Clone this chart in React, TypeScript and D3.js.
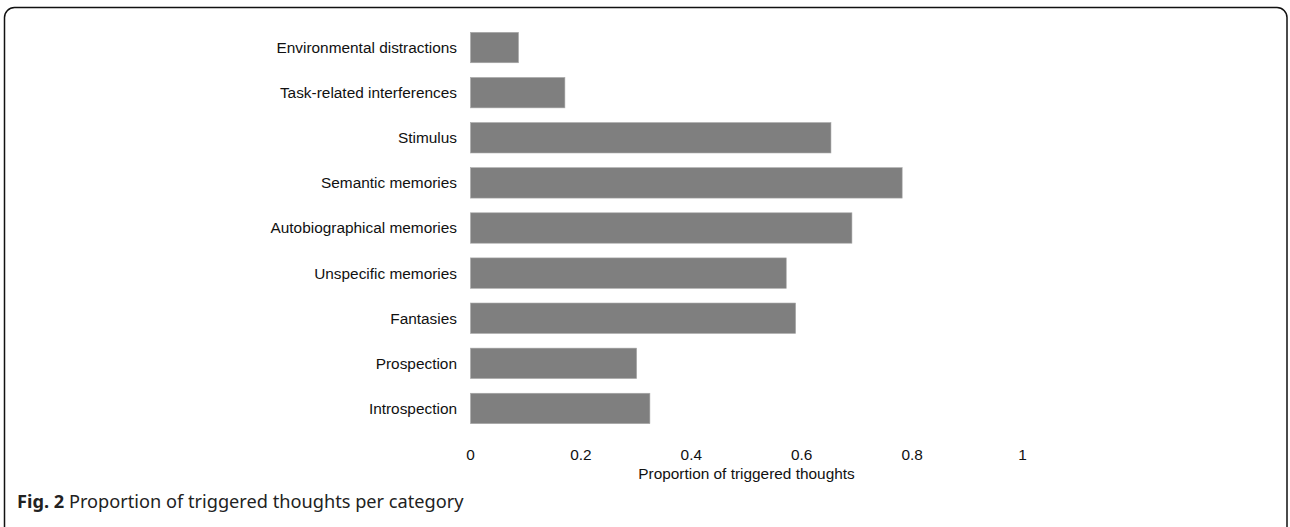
import React from "react";
import * as d3 from "d3";

const categories = [
  "Environmental distractions",
  "Task-related interferences",
  "Stimulus",
  "Semantic memories",
  "Autobiographical memories",
  "Unspecific memories",
  "Fantasies",
  "Prospection",
  "Introspection",
];
const proportions = [0.087, 0.171, 0.653, 0.782, 0.691, 0.572, 0.589, 0.301, 0.325];
const xTicks = [0, 0.2, 0.4, 0.6, 0.8, 1];
const xTickLabels = ["0", "0.2", "0.4", "0.6", "0.8", "1"];
const xTitle = "Proportion of triggered thoughts";
const captionBold = "Fig. 2";
const captionText = " Proportion of triggered thoughts per category";

const W = 1290;
const H = 527;

export default function App() {
  const x = d3.scaleLinear().domain([0, 1]).range([470.5, 1022.5]);
  const y = d3
    .scaleBand<string>()
    .domain(categories)
    .range([25, 431])
    .paddingInner(0.326)
    .paddingOuter(0.163);
  const font = "'Liberation Sans', Arial, sans-serif";
  const fs = 15.4;
  return (
    <svg
      width={W}
      height={H}
      style={{ position: "absolute", left: 0, top: 0, background: "#fff" }}
    >
      <rect x={4.5} y={7.5} width={1282.5} height={530} rx={10} ry={10} fill="#fff" stroke="#111" strokeWidth={1.5} />
      {categories.map((c, i) => (
        <g key={c}>
          <rect
            x={x(0)}
            y={y(c)}
            width={x(proportions[i]) - x(0)}
            height={y.bandwidth()}
            fill="#7f7f7f"
            stroke="#a8a8a8"
            strokeWidth={0.6}
          />
          <text
            x={457}
            y={(y(c) as number) + y.bandwidth() / 2}
            dy="0.35em"
            textAnchor="end"
            fontFamily={font}
            fontSize={fs}
            fill="#111"
          >
            {c}
          </text>
        </g>
      ))}
      {xTicks.map((t, i) => (
        <text
          key={t}
          x={x(t)}
          y={455}
          dy="0.35em"
          textAnchor="middle"
          fontFamily={font}
          fontSize={fs}
          fill="#111"
        >
          {xTickLabels[i]}
        </text>
      ))}
      <text
        x={(x(0) + x(1)) / 2}
        y={474}
        dy="0.35em"
        textAnchor="middle"
        fontFamily={font}
        fontSize={fs}
        fill="#111"
      >
        {xTitle}
      </text>
      <text x={17} y={507.5} fontFamily="'Noto Sans', 'Open Sans', sans-serif" fontSize={18.2} fill="#222">
        <tspan fontWeight="bold">{captionBold}</tspan>
        <tspan>{captionText}</tspan>
      </text>
    </svg>
  );
}
